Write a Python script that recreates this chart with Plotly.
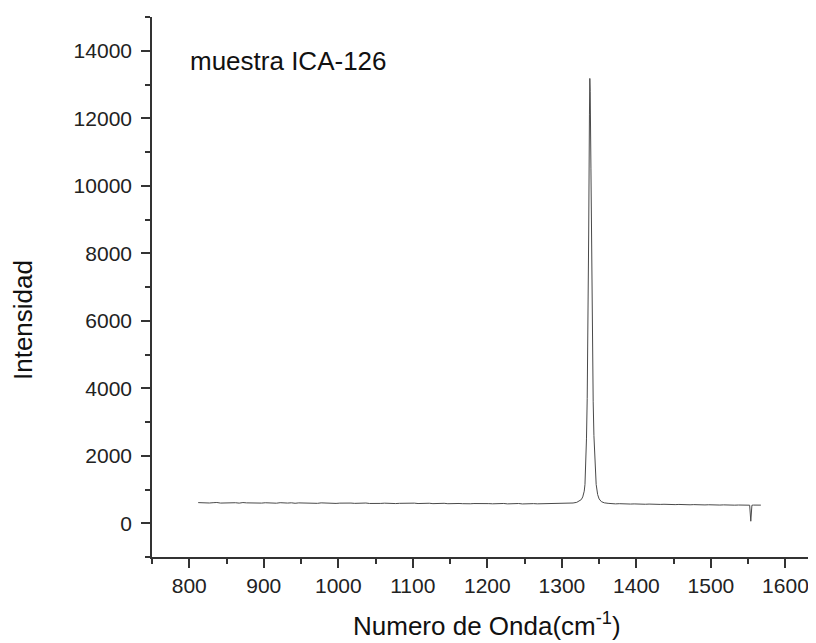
import plotly.graph_objects as go

# ---- data ----
# left baseline: wavenumber grid 812..1297 step 5
base_left_x = list(range(812, 1300, 5))
base_left_y = [
    612, 605, 618, 600, 609, 615, 598, 606, 611, 602,
    608, 596, 613, 604, 599, 610, 603, 597, 607, 601,
    605, 594, 609, 600, 598, 606, 592, 603, 599, 596,
    602, 595, 590, 604, 597, 593, 600, 588, 596, 601,
    592, 598, 589, 595, 590, 599, 586, 594, 591, 588,
    595, 587, 592, 583, 590, 594, 585, 589, 596, 584,
    590, 586, 593, 581, 588, 584, 591, 579, 587, 583,
    586, 580, 589, 577, 584, 588, 578, 585, 582, 576,
    583, 579, 586, 574, 581, 577, 585, 572, 580, 576,
    582, 575, 579, 584, 577, 581, 586, 590,
]

# Raman peak region
peak_x = [1302, 1306, 1310, 1315, 1320, 1323, 1326, 1328, 1329, 1330, 1331,
          1332, 1333, 1334, 1335, 1336, 1337, 1337.5, 1338, 1339, 1340, 1341,
          1342, 1343, 1344, 1345, 1346, 1348, 1350, 1353, 1357, 1362]
peak_y = [586, 592, 589, 600, 620, 650, 700, 780, 850, 950, 1150,
          1600, 2500, 3700, 5600, 8600, 12100, 13180, 12800, 10500, 7600, 5200,
          3600, 2600, 1900, 1450, 1150, 850, 720, 640, 605, 590]

# right baseline including the narrow negative spike
base_right_x = [1367, 1372, 1377, 1382, 1387, 1392, 1397, 1402, 1407, 1412,
                1417, 1422, 1427, 1432, 1437, 1442, 1447, 1452, 1457, 1462,
                1467, 1472, 1477, 1482, 1487, 1492, 1497, 1502, 1507, 1512,
                1517, 1522, 1527, 1532, 1537, 1542, 1547, 1552, 1553.5, 1555,
                1557, 1562, 1567]
base_right_y = [578, 574, 580, 571, 576, 569, 573, 566, 571, 563,
                568, 560, 565, 558, 562, 555, 560, 552, 557, 549,
                554, 547, 552, 545, 550, 543, 548, 541, 546, 539,
                544, 537, 542, 536, 540, 534, 539, 535, 60, 534,
                538, 533, 537]

wavenumber = base_left_x + peak_x + base_right_x
intensity = base_left_y + peak_y + base_right_y

x_tickvals = [800, 900, 1000, 1100, 1200, 1300, 1400, 1500, 1600]
x_ticktext = ["800", "900", "1000", "1100", "1200", "1300", "1400", "1500", "1600"]
y_tickvals = [0, 2000, 4000, 6000, 8000, 10000, 12000, 14000]
y_ticktext = ["0", "2000", "4000", "6000", "8000", "10000", "12000", "14000"]

FONT = "Arial, Liberation Sans, sans-serif"
AX = "#333333"

fig = go.Figure()
fig.add_trace(go.Scatter(
    x=wavenumber, y=intensity, mode="lines",
    line=dict(color="#4a4a4a", width=1),
    showlegend=False, hoverinfo="skip",
))

axis_common = dict(
    showline=True, linecolor=AX, linewidth=1.6,
    ticks="outside", ticklen=9, tickwidth=1.6, tickcolor=AX,
    showgrid=False, zeroline=False, mirror=False, automargin=False,
    tickmode="array",
    tickfont=dict(family=FONT, size=21, color="#222222"),
)

# page body has an 8px default margin, so the figure is sized 808x635
fig.update_layout(
    width=808, height=635,
    margin=dict(l=144, r=0, t=9, b=86),
    paper_bgcolor="white", plot_bgcolor="white",
    xaxis=dict(range=[750, 1641], tickvals=x_tickvals, ticktext=x_ticktext,
               minor=dict(dtick=50, tick0=750, ticks="outside", ticklen=5,
                          tickwidth=1.6, tickcolor=AX),
               ticklabelstandoff=0,
               **axis_common),
    yaxis=dict(range=[-1000, 15000], tickvals=y_tickvals, ticktext=y_ticktext,
               minor=dict(dtick=1000, tick0=-1000, ticks="outside", ticklen=5,
                          tickwidth=1.6, tickcolor=AX),
               ticklabelstandoff=5,
               **axis_common),
    annotations=[
        dict(text="muestra ICA-126", xref="x", yref="y", x=798, y=13690,
             xanchor="left", yanchor="middle", showarrow=False,
             font=dict(family=FONT, size=26, color="#111111")),
        dict(text="Intensidad", xref="paper", yref="paper",
             x=(23 - 152) / 664, y=(557 - 320) / 540, textangle=-90,
             xanchor="center", yanchor="middle", showarrow=False,
             font=dict(family=FONT, size=26, color="#111111")),
        dict(text="Numero de Onda(cm<sup>-1</sup>)", xref="paper", yref="paper",
             x=(487 - 152) / 664, y=(557 - 624) / 540,
             xanchor="center", yanchor="middle", showarrow=False,
             font=dict(family=FONT, size=26, color="#111111")),
    ],
)

fig.write_html("out.html")
